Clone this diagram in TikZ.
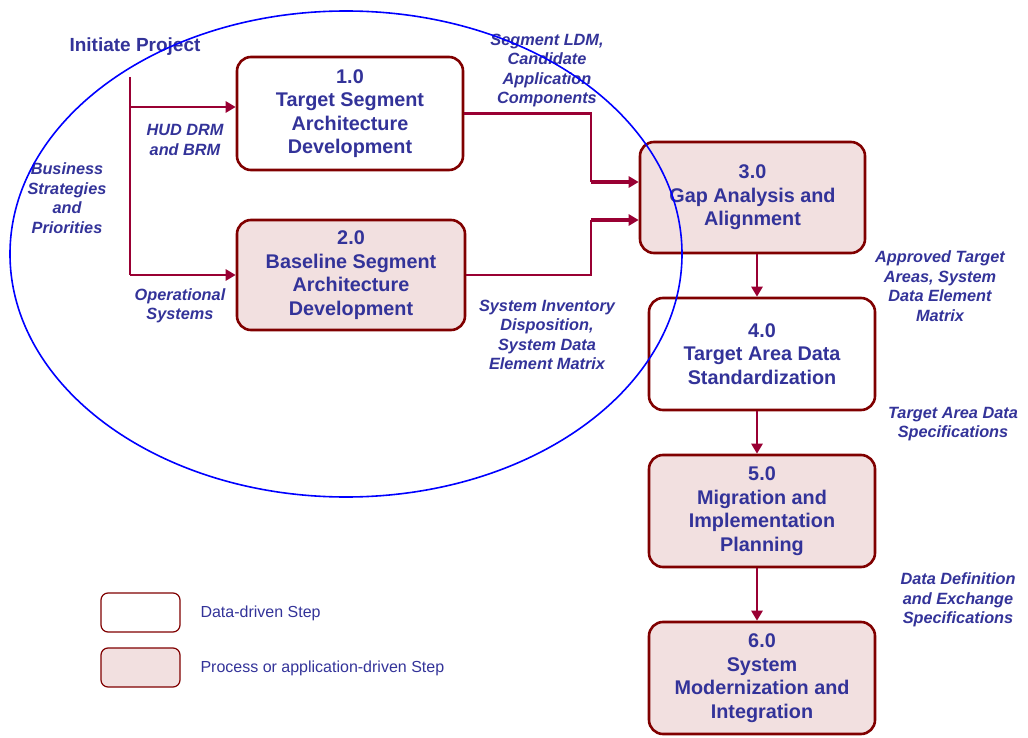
\documentclass[tikz,border=0pt]{standalone}
\usepackage{fontspec}
\setmainfont{Liberation Sans}
\usetikzlibrary{arrows.meta}
\definecolor{txtblue}{RGB}{51,51,153}
\definecolor{boxred}{RGB}{128,0,0}
\definecolor{linkred}{RGB}{153,0,51}
\definecolor{pinkfill}{RGB}{242,224,224}
\begin{document}
\begin{tikzpicture}[x=1pt,y=-1pt,
  stepbox/.style={draw=boxred, line width=2.6pt, rounded corners=14pt, fill=white,
    text=txtblue, font=\fontsize{19.8}{23.5}\selectfont\bfseries, align=center,
    inner sep=0pt, minimum width=226pt, minimum height=112pt},
  procbox/.style={stepbox, fill=pinkfill},
  legbox/.style={draw=boxred, line width=1.2pt, rounded corners=7pt,
    minimum width=79pt, minimum height=39pt, inner sep=0pt},
  flow/.style={draw=linkred, line width=2.6pt},
  tip/.style={-{Triangle[length=10pt,width=11pt]}},
  lbl/.style={text=txtblue, font=\fontsize{16.3}{19.5}\selectfont\bfseries\itshape, align=center},
  legtext/.style={text=txtblue, font=\fontsize{16}{18}\selectfont, anchor=west},
]
\useasboundingbox (0,0) rectangle (1028,738);

% process steps
\node[stepbox, minimum height=113pt] (b1) at (350,113.5) {1.0\\Target Segment\\Architecture\\Development};
\node[procbox, minimum width=228pt, minimum height=110pt] (b2) at (351,275) {2.0\\Baseline Segment\\Architecture\\Development};
\node[procbox, minimum width=225pt, minimum height=111pt] (b3) at (752.5,197.5) {3.0\\Gap Analysis and\\Alignment};
\node[stepbox] (b4) at (762,354) {4.0\\Target Area Data\\Standardization};
\node[procbox] (b5) at (762,511) {5.0\\Migration and\\Implementation\\Planning};
\node[procbox] (b6) at (762,678) {6.0\\System\\Modernization and\\Integration};

% inputs to steps 1.0 and 2.0
\coordinate (start) at (130,77);
\coordinate (split1) at (130,107);
\coordinate (split2) at (130,275);
\draw[flow] (start) -- (split2);
\draw[flow,tip] (split1) -- (split1 -| b1.west);
\draw[flow,tip] (split2) -- (split2 -| b2.west);

% outputs of steps 1.0 and 2.0 into 3.0
\coordinate (bend1) at (591,182);
\coordinate (bend2) at (591,220);
\draw[flow] (b1.east) -| (bend1);
\draw[flow,line width=3.6pt,tip] (bend1) -- (bend1 -| b3.west);
\draw[flow] (b2.east) -| (bend2);
\draw[flow,line width=3.6pt,tip] (bend2) -- (bend2 -| b3.west);

% main chain
\coordinate (spine) at (757,0);
\draw[flow,tip] (b3.south -| spine) -- (b4.north -| spine);
\draw[flow,tip] (b4.south -| spine) -- (b5.north -| spine);
\draw[flow,tip] (b5.south -| spine) -- (b6.north -| spine);

% flow labels
\node[text=txtblue, font=\fontsize{19}{22}\selectfont\bfseries] (init) at (135,47) {Initiate Project};
\node[lbl] (hud) at (185,140) {HUD DRM\\and BRM};
\node[lbl] (bus) at (67,198) {Business\\Strategies\\and\\Priorities};
\node[lbl] (ops) at (180,306) {Operational\\Systems};
\node[lbl] (ldm) at (547,70.5) {Segment LDM,\\Candidate\\Application\\Components};
\node[lbl] (inv) at (547,335) {System Inventory\\Disposition,\\System Data\\Element Matrix};
\node[lbl] (appr) at (940,286) {Approved Target\\Areas, System\\Data Element\\Matrix};
\node[lbl] (spec) at (953,424) {Target Area Data\\Specifications};
\node[lbl] (ddef) at (958,600) {Data Definition\\and Exchange\\Specifications};

% legend
\node[legbox, fill=white] (leg1) at (140.5,612.5) {};
\node[legbox, fill=pinkfill] (leg2) at (140.5,667.5) {};
\node[legtext] (leg1t) at (197,613) {Data-driven Step};
\node[legtext] (leg2t) at (197,668) {Process or application-driven Step};

% project initiation scope
\draw[blue, line width=1.6pt] (346,254) ellipse [x radius=336pt, y radius=243pt];
\end{tikzpicture}
\end{document}
